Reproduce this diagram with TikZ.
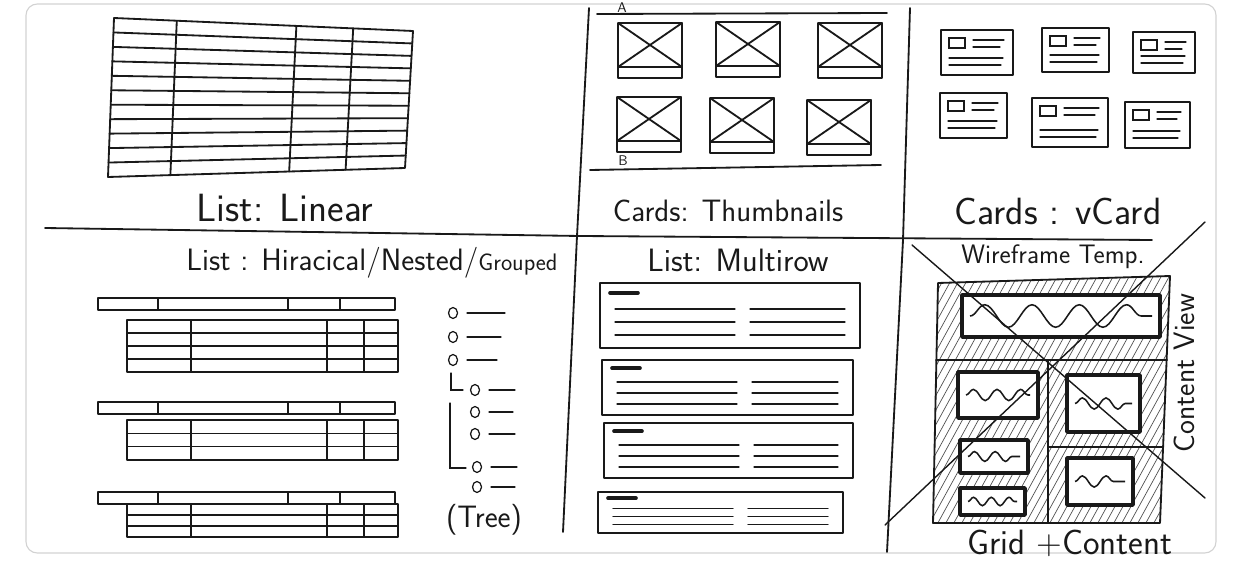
\documentclass[tikz,border=0pt]{standalone}
\usepackage{xcolor}
\usepackage{tikz}
\usetikzlibrary{positioning,calc,decorations.pathmorphing}
\definecolor{inkblack}{RGB}{25,25,25}
\definecolor{papergray}{RGB}{210,210,210}
\tikzset{
  ink/.style={draw=inkblack, line width=1.3pt, line join=round, line cap=round},
  thinink/.style={draw=inkblack, line width=0.9pt, line cap=round},
  boldink/.style={draw=inkblack, line width=2.6pt, line join=round},
  hatch/.style={draw=inkblack!75, line width=0.5pt},
  wave/.style={draw=inkblack, line width=1.1pt, decorate, decoration={snake, amplitude=#1, segment length=4.2*#1}},
  handlabel/.style={inner sep=0pt, text=inkblack, font=\sffamily\fontsize{#1}{#1}\selectfont}
}

\begin{document}
\begin{tikzpicture}[x=0.025cm, y=-0.025cm, font=\sffamily]
  \useasboundingbox (0,0) rectangle (1240,576);
  % sheet and dividers
  \draw[papergray, line width=0.8pt, rounded corners=8pt] (26,4) rectangle (1216,553);
  \draw[ink] (45,228) -- (580,236) -- (1152,240);
  \draw[ink] (589,8) -- (577,236) -- (563,532);
  \draw[ink] (910,8) -- (903,240) -- (887,552);

  % list: linear
  \coordinate (linTL) at (114,18);
  \coordinate (linTR) at (413,31);
  \coordinate (linBR) at (405,168);
  \coordinate (linBL) at (108,177);
  \draw[ink] (linTL) -- (linTR) -- (linBR) -- (linBL) -- cycle;
  \foreach \row in {1,...,10}
    \draw[ink] ($(linTL)!\row/11!(linBL)$) -- ($(linTR)!\row/11!(linBR)$);
  \foreach \col in {0.21,0.61,0.80}
    \draw[ink] ($(linTL)!\col!(linTR)$) -- ($(linBL)!\col!(linBR)$);
  \node[handlabel=28] (linear) at (285,208) {List: Linear};

  % cards: thumbnails
  \draw[ink] (597,14) -- (887,13);
  \draw[ink] (590,170) -- (881,165);
  \node[handlabel=10] (markA) at (622,8) {A};
  \node[handlabel=10] (markB) at (623,161) {B};
  \foreach \x/\y in {618/23, 716/22, 818/23, 617/97, 710/98, 807/100} {
    \draw[ink] (\x,\y) rectangle (\x+64,\y+44) (\x,\y) -- (\x+64,\y+44) (\x,\y+44) -- (\x+64,\y);
    \draw[ink] (\x,\y+44) -- (\x,\y+55) -- (\x+64,\y+55) -- (\x+64,\y+44);
  }
  \node[handlabel=22] (thumbs) at (728,211) {Cards: Thumbnails};

  % cards: vcard
  \foreach \x/\y/\w/\h in {941/30/72/45, 1042/28/67/44, 1133/32/62/41, 940/93/67/45, 1032/98/76/49, 1125/102/65/46} {
    \draw[ink] (\x,\y) rectangle (\x+\w,\y+\h);
    \draw[thinink] (\x+8,\y+8) rectangle (\x+24,\y+18);
    \draw[thinink] (\x+32,\y+10) -- (\x+\w-9,\y+10) (\x+32,\y+17) -- (\x+\w-13,\y+17);
    \draw[thinink] (\x+8,\y+\h-17) -- (\x+\w-10,\y+\h-17) (\x+8,\y+\h-10) -- (\x+\w-12,\y+\h-10);
  }
  \node[handlabel=27] (vcard) at (1058,211) {Cards : vCard};

  % list: nested groups
  \node[handlabel=22] (nested) at (372,263) {List : Hiracical/Nested/{\fontsize{17}{17}\selectfont Grouped}};
  \foreach \hy/\ty/\by/\n in {298/320/372/4, 402/420/460/3, 492/504/537/3} {
    \draw[ink] (98,\hy) rectangle (395,\hy+12);
    \foreach \tx in {158,288,340}
      \draw[ink] (\tx,\hy) -- (\tx,\hy+12);
    \draw[ink] (127,\ty) rectangle (398,\by);
    \pgfmathtruncatemacro\m{\n-1}
    \foreach \k in {1,...,\m}
      \draw[thinink] (127,{\ty+\k*(\by-\ty)/\n}) -- (398,{\ty+\k*(\by-\ty)/\n});
    \foreach \cx in {191,327,364}
      \draw[ink] (\cx,\ty) -- (\cx,\by);
  }

  % tree
  \foreach \cx/\cy/\len in {453/313/38, 453/337/34, 453/360/30, 475/390/26, 475/412/24, 475/434/26, 477/467/26, 477/487/24} {
    \draw[thinink] (\cx,\cy) circle[x radius=4.5, y radius=5.5];
    \draw[thinink] (\cx+14,\cy) -- (\cx+14+\len,\cy);
  }
  \draw[thinink] (451,373) -- (451,390) -- (463,390);
  \draw[thinink] (450,403) -- (450,468) -- (466,468);
  \node[handlabel=22] (tree) at (484,520) {(Tree)};

  % list: multirow
  \node[handlabel=23] (multirow) at (738,260) {List: Multirow};
  \foreach \x/\y/\w/\h in {600/283/260/65, 602/360/251/55, 604/423/249/55, 598/492/245/41} {
    \draw[ink] (\x,\y) rectangle (\x+\w,\y+\h);
    \draw[inkblack, line width=2.6pt, line cap=round] (\x+10,\y+0.15*\h) -- (\x+38,\y+0.15*\h);
    \foreach \f in {0.4,0.6,0.8} {
      \draw[thinink] (\x+15,\y+\f*\h) -- (\x+135,\y+\f*\h);
      \draw[thinink] (\x+150,\y+\f*\h) -- (\x+\w-15,\y+\f*\h);
    }
  }

  % wireframe template
  \node[handlabel=19] (wiretitle) at (1053,257) {Wireframe Temp.};
  \coordinate (wfTL) at (938,283);
  \coordinate (wfTR) at (1170,276);
  \coordinate (wfBR) at (1160,523);
  \coordinate (wfBL) at (933,523);
  \begin{scope}
    \clip (wfTL) -- (wfTR) -- (wfBR) -- (wfBL) -- cycle;
    \foreach \i in {790,798,...,1175}
      \draw[hatch] (\i,530) -- (\i+140,275);
  \end{scope}
  \draw[ink] (wfTL) -- (wfTR) -- (wfBR) -- (wfBL) -- cycle;
  \draw[ink] (936,360) -- (1167,360);
  \draw[ink] (1048,360) -- (1048,523);
  \draw[ink] (1048,447) -- (1163,447);
  \foreach \x/\y/\w/\h/\a in {962/295/198/42/8, 958/372/80/46/4, 1067/375/73/57/4, 960/440/68/33/3.5, 960/488/65/27/3, 1067/458/66/47/4} {
    \draw[boldink, fill=white] (\x,\y) rectangle (\x+\w,\y+\h);
    \draw[wave=\a] (\x+8,\y+\h/2) -- (\x+\w-8,\y+\h/2);
  }
  \node[handlabel=21, rotate=90] (contentview) at (1184,373) {Content View};
  \node[handlabel=25] (gridcontent) at (1070,543) {Grid +Content};
  \draw[ink, line width=1pt] (912,245) -- (1205,498);
  \draw[ink, line width=1pt] (1205,222) -- (885,525);
\end{tikzpicture}
\end{document}
